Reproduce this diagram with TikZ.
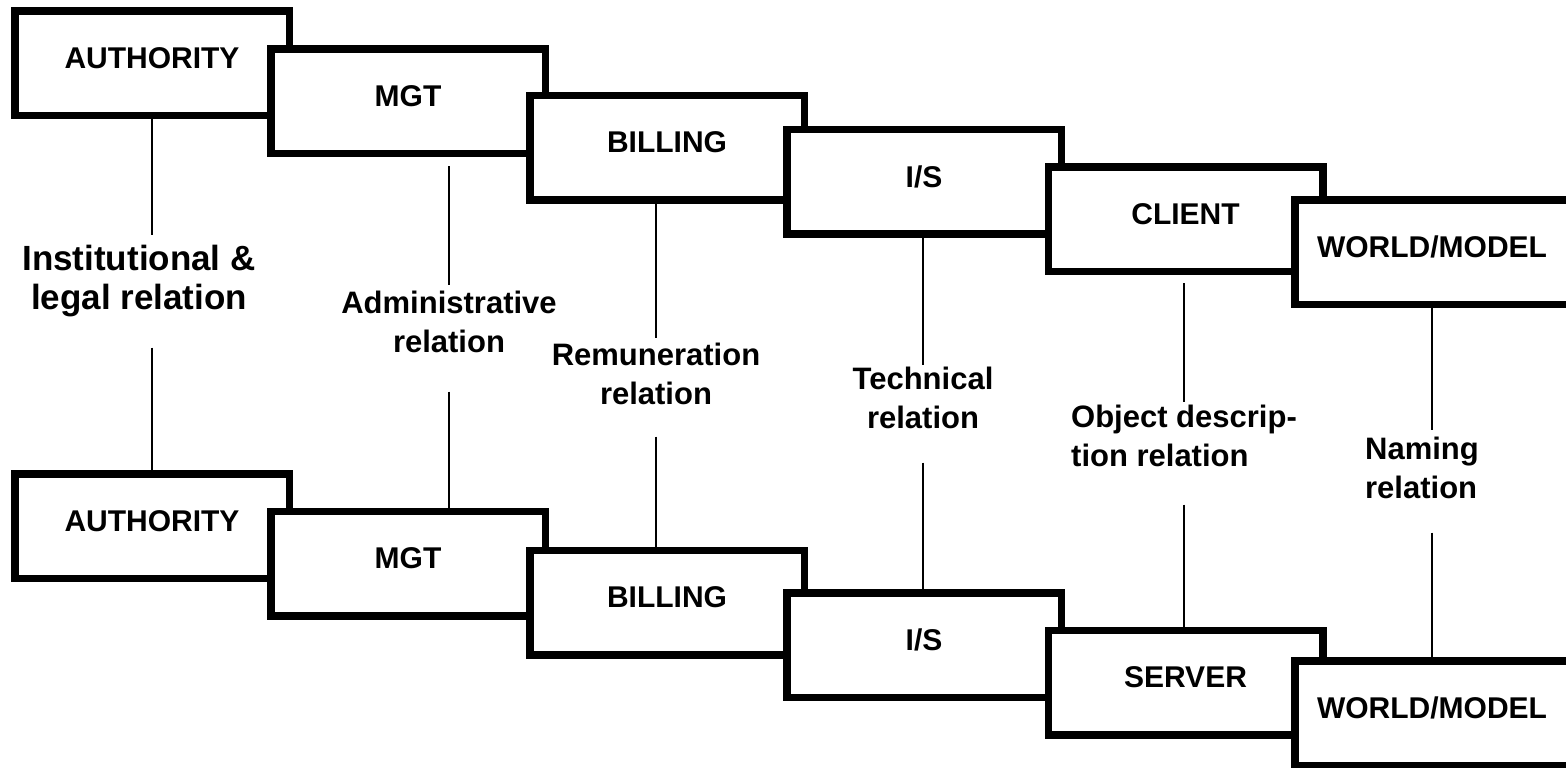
\documentclass[tikz,border=0pt]{standalone}
\usepackage{fontspec}
\setmainfont{Liberation Sans}
\usetikzlibrary{calc}

\tikzset{
  layerbox/.style={draw, line width=3.75pt, fill=white, minimum width=137.25pt,
    minimum height=52.25pt, inner sep=0pt, text depth=5pt,
    font=\bfseries\fontsize{15}{18}\selectfont},
  relation/.style={anchor=north, inner sep=0pt, align=center,
    font=\bfseries\fontsize{15.5}{19.5}\selectfont},
  link/.style={line width=1pt}
}

\begin{document}
\begin{tikzpicture}[x=0.5pt, y=-0.5pt]
  \useasboundingbox (0,0) rectangle (1566,767);

  % Upper stair of layers
  \node[layerbox] (auth1) at (152,63) {AUTHORITY};
  \node[layerbox] (mgt1) at (408,101) {MGT};
  \node[layerbox] (bill1) at (667,147.5) {BILLING};
  \node[layerbox] (is1) at (924,181.5) {I/S};
  \node[layerbox] (cli) at (1185.5,219) {CLIENT};
  \node[layerbox] (wm1) at (1432,252) {WORLD/MODEL};

  % Lower stair of layers
  \node[layerbox] (auth2) at (152,526) {AUTHORITY};
  \node[layerbox] (mgt2) at (408,563.5) {MGT};
  \node[layerbox] (bill2) at (667,602.5) {BILLING};
  \node[layerbox] (is2) at (924,645) {I/S};
  \node[layerbox] (srv) at (1185.5,682.5) {SERVER};
  \node[layerbox] (wm2) at (1432,713) {WORLD/MODEL};

  % Relation labels
  \node[relation, font=\bfseries\fontsize{17.5}{19.5}\selectfont] (rel1) at (139,245) {Institutional \&\\legal relation};
  \node[relation] (rel2) at (449,291) {Administrative\\relation};
  \node[relation] (rel3) at (656,343) {Remuneration\\relation};
  \node[relation] (rel4) at (923,367) {Technical\\relation};
  \node[relation, align=left] (rel5) at (1184,405) {Object descrip-\\tion relation};
  \node[relation, align=left] (rel6) at (1422,437) {Naming\\relation};

  % Links between the two stairs
  \draw[link] (auth1.south) -- ($(auth1.south |- rel1.north)+(0,-10)$);
  \draw[link] ($(auth2.north |- rel1.south)+(0,30)$) -- (auth2.north);
  \draw[link] ($(mgt1.south -| rel2)+(0,9)$) -- ($(rel2.north)+(0,-6)$);
  \draw[link] ($(rel2.south)+(0,38)$) -- (mgt2.north -| rel2);
  \draw[link] (bill1.south -| rel3) -- ($(rel3.north)+(0,-5)$);
  \draw[link] ($(rel3.south)+(0,31)$) -- (bill2.north -| rel3);
  \draw[link] (is1.south -| rel4) -- ($(rel4.north)+(0,-2)$);
  \draw[link] ($(rel4.south)+(0,33)$) -- (is2.north -| rel4);
  \draw[link] ($(cli.south -| rel5)+(0,8)$) -- ($(rel5.north)+(0,-3)$);
  \draw[link] ($(rel5.south)+(0,37)$) -- (srv.north -| rel5);
  \draw[link] (wm1.south) -- ($(wm1.south |- rel6.north)+(0,-7)$);
  \draw[link] ($(wm2.north |- rel6.south)+(0,33)$) -- (wm2.north);
\end{tikzpicture}
\end{document}
